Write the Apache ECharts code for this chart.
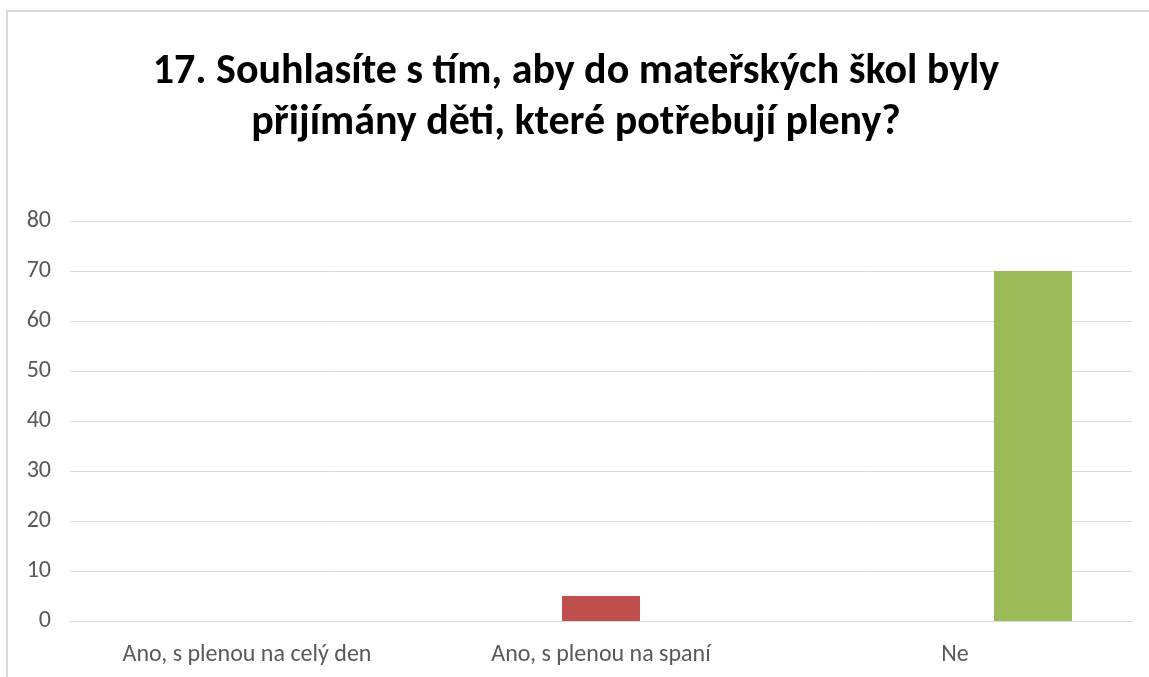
<!DOCTYPE html>
<html>
<head>
<meta charset="utf-8">
<script src="https://cdn.jsdelivr.net/npm/echarts@6/dist/echarts.min.js"></script>
<style>
  html, body { margin: 0; padding: 0; background: #fff; }
  #mychart { width: 1149px; height: 677px; }
</style>
</head>
<body>
<div id="mychart"></div>
<script>
// kategorie (osa x)
const categories = ["Ano, s plenou na celý den", "Ano, s plenou na spaní", "Ne"];
// každá odpověď je samostatná řada (jako v Excelu)
const seriesNames = ["Ano, s plenou na celý den", "Ano, s plenou na spaní", "Ne"];
const valuesCelyDen = [0, null, null];
const valuesSpani = [null, 5, null];
const valuesNe = [null, null, 70];
const seriesColors = ["#4F81BD", "#C0504D", "#9BBB59"];
const yTicks = { min: 0, max: 80, interval: 10 };

const seriesData = [valuesCelyDen, valuesSpani, valuesNe];

const option = {
  animation: false,
  title: {
    text: "17. Souhlasíte s tím, aby do mateřských škol byly\npřijímány děti, které potřebují pleny?",
    left: 571,
    top: 42,
    textAlign: "center",
    textStyle: {
      fontFamily: "Carlito, 'Open Sans', sans-serif",
      fontWeight: "bold",
      fontSize: 42,
      lineHeight: 51,
      color: "#000"
    }
  },
  grid: { left: 70, right: 17, top: 221, bottom: 56 },
  xAxis: {
    type: "category",
    data: categories,
    axisTick: { show: false },
    axisLine: { show: true, lineStyle: { color: "#d9d9d9", width: 1 } },
    axisLabel: {
      color: "#595959",
      fontSize: 24,
      fontFamily: "Carlito, Lato, sans-serif",
      margin: 22
    }
  },
  yAxis: {
    type: "value",
    min: yTicks.min,
    max: yTicks.max,
    interval: yTicks.interval,
    axisLine: { show: false },
    axisTick: { show: false },
    splitLine: { lineStyle: { color: "#d9d9d9", width: 1 } },
    axisLabel: {
      color: "#595959",
      fontSize: 24,
      fontFamily: "Carlito, Lato, sans-serif",
      margin: 19
    }
  },
  graphic: [
    {
      type: "polyline",
      shape: { points: [[7, 700], [7, 11], [1160, 11]] },
      style: { stroke: "#d9d9d9", lineWidth: 2, fill: null }
    }
  ],
  series: seriesData.map((d, i) => ({
    name: seriesNames[i],
    type: "bar",
    data: d,
    barWidth: 78,
    barGap: "0%",
    itemStyle: { color: seriesColors[i] }
  }))
};

const myChart = echarts.init(document.getElementById("mychart"));
myChart.setOption(option);
window.addEventListener("resize", () => {
  myChart.resize();
});
</script>
</body>
</html>
